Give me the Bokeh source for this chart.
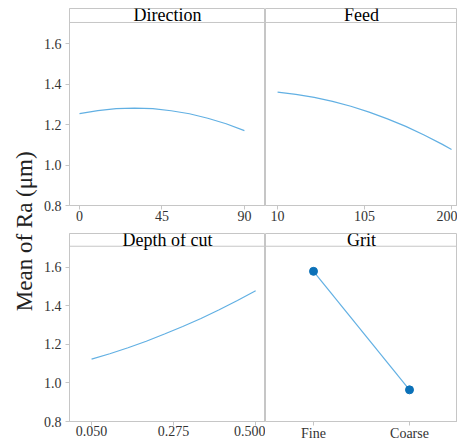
from bokeh.plotting import figure
from bokeh.models import Range1d, FactorRange, FixedTicker, Label, Span
from bokeh.layouts import row, column
from bokeh.embed import file_html
from bokeh.resources import INLINE
import math

# ---- data ----
direction_x = [0, 10, 20, 30, 40, 50, 60, 70, 80, 90]
direction_ra = [1.254, 1.269, 1.278, 1.281, 1.278, 1.268, 1.253, 1.231, 1.204, 1.170]

feed_x = [10, 30, 50, 70, 90, 110, 130, 150, 170, 190, 200]
feed_ra = [1.360, 1.349, 1.334, 1.314, 1.290, 1.261, 1.228, 1.191, 1.148, 1.102, 1.077]

depth_x = [0.05, 0.10, 0.15, 0.20, 0.25, 0.30, 0.35, 0.40, 0.45, 0.50]
depth_ra = [1.123, 1.151, 1.182, 1.216, 1.253, 1.292, 1.334, 1.379, 1.427, 1.477]

grit_levels = ["Fine", "Coarse"]
grit_ra = [1.578, 0.964]

y_ticks = [0.8, 1.0, 1.2, 1.4, 1.6]
y_tick_labels = ["0.8", "1.0", "1.2", "1.4", "1.6"]
direction_ticks = [0, 45, 90]
direction_tick_labels = ["0", "45", "90"]
feed_ticks = [10, 105, 200]
feed_tick_labels = ["10", "105", "200"]
depth_ticks = [0.05, 0.275, 0.5]
depth_tick_labels = ["0.050", "0.275", "0.500"]

titles = ["Direction", "Feed", "Depth of cut", "Grit"]
y_label = "Mean of Ra (\u03bcm)"

# ---- style ----
FONT = "Liberation Serif"
GRAY = "#c6c6c6"
LINE = "#62b0e3"
DOT = "#0b71b8"
TICK_TEXT = "#333333"

LABEL_W = 38
LEFT_BORDER = 31
LEFT_FRAME = 196
RIGHT_FRAME = 192
TOP_PAD, TOP_FRAME, TOP_BOTTOM = 8, 197, 25
BOT_PAD, BOT_FRAME, BOT_BOTTOM = 3, 190, 20

TOP_Y = (0.8, 1.773, 1.704)
BOT_Y = (0.8, 1.774, 1.708)


def panel(title, x_range, yspec, left, frame_w, frame_h, bottom, top, standoff):
    y0, y1, strip = yspec
    p = figure(
        width=frame_w + (LEFT_BORDER if left else 0),
        height=frame_h + bottom + top,
        x_range=x_range,
        y_range=Range1d(y0, y1),
        output_backend="svg",
        toolbar_location=None,
        y_axis_location="left" if left else None,
        min_border_left=LEFT_BORDER if left else 0,
        min_border_right=0,
        min_border_top=top,
        min_border_bottom=bottom,
    )
    p.grid.visible = False
    p.outline_line_color = GRAY
    p.outline_line_width = 1
    p.background_fill_color = "white"
    p.border_fill_color = "white"

    axes = [p.xaxis[0]] + ([p.yaxis[0]] if left else [])
    for ax in axes:
        ax.axis_line_color = GRAY
        ax.major_tick_line_color = GRAY
        ax.minor_tick_line_color = None
        ax.major_tick_in = 0
        ax.major_tick_out = 4
        ax.major_label_text_font = FONT
        ax.major_label_text_font_size = "14px"
        ax.major_label_text_color = TICK_TEXT
    p.xaxis.major_label_standoff = standoff
    if left:
        p.yaxis.ticker = FixedTicker(ticks=y_ticks)
        p.yaxis.major_label_overrides = dict(zip(y_ticks, y_tick_labels))
        p.yaxis.major_label_standoff = 4

    p.add_layout(Span(location=strip, dimension="width", line_color=GRAY, line_width=1))
    if isinstance(x_range, FactorRange):
        cx = 1.0
    else:
        cx = (x_range.start + x_range.end) / 2
    p.add_layout(Label(x=cx, y=(strip + y1) / 2, text=title,
                       text_font=FONT, text_font_size="18px", text_color="black",
                       text_align="center", text_baseline="middle"))
    return p


p1 = panel(titles[0], Range1d(-5.45, 101.5), TOP_Y, True, LEFT_FRAME, TOP_FRAME, TOP_BOTTOM, TOP_PAD, 1)
p1.xaxis.ticker = FixedTicker(ticks=direction_ticks)
p1.xaxis.major_label_overrides = dict(zip(direction_ticks, direction_tick_labels))
p1.line(direction_x, direction_ra, line_color=LINE, line_width=1.2)

p2 = panel(titles[1], Range1d(-3.2, 206.5), TOP_Y, False, RIGHT_FRAME, TOP_FRAME, TOP_BOTTOM, TOP_PAD, 1)
p2.xaxis.ticker = FixedTicker(ticks=feed_ticks)
p2.xaxis.major_label_overrides = dict(zip(feed_ticks, feed_tick_labels))
p2.line(feed_x, feed_ra, line_color=LINE, line_width=1.2)

p3 = panel(titles[2], Range1d(-0.0105, 0.527), BOT_Y, True, LEFT_FRAME, BOT_FRAME, BOT_BOTTOM, BOT_PAD, 0)
p3.xaxis.ticker = FixedTicker(ticks=depth_ticks)
p3.xaxis.major_label_overrides = dict(zip(depth_ticks, depth_tick_labels))
p3.line(depth_x, depth_ra, line_color=LINE, line_width=1.2)

p4 = panel(titles[3], FactorRange(factors=grit_levels, range_padding=0), BOT_Y, False, RIGHT_FRAME, BOT_FRAME, BOT_BOTTOM, BOT_PAD, 0)
p4.line(grit_levels, grit_ra, line_color=LINE, line_width=1.2)
p4.scatter(grit_levels, grit_ra, size=8, fill_color=DOT, line_color=DOT)

# y-axis title column
total_h = TOP_PAD + TOP_FRAME + TOP_BOTTOM + BOT_PAD + BOT_FRAME + BOT_BOTTOM
lab = figure(width=LABEL_W, height=total_h,
             x_range=Range1d(0, 1), y_range=Range1d(0, 1),
             x_axis_location=None, y_axis_location=None,
             output_backend="svg", toolbar_location=None,
             min_border=0, min_border_left=0, min_border_right=0,
             min_border_top=0, min_border_bottom=0)
lab.grid.visible = False
lab.outline_line_color = None
lab.add_layout(Label(x=0.63, y=0.479, text=y_label, angle=math.pi / 2,
                     text_font=FONT, text_font_size="23px", text_color="#222222",
                     text_align="center", text_baseline="middle"))

layout = row(lab, column(row(p1, p2), row(p3, p4)))

open("out.html", "w").write(file_html(layout, INLINE))
